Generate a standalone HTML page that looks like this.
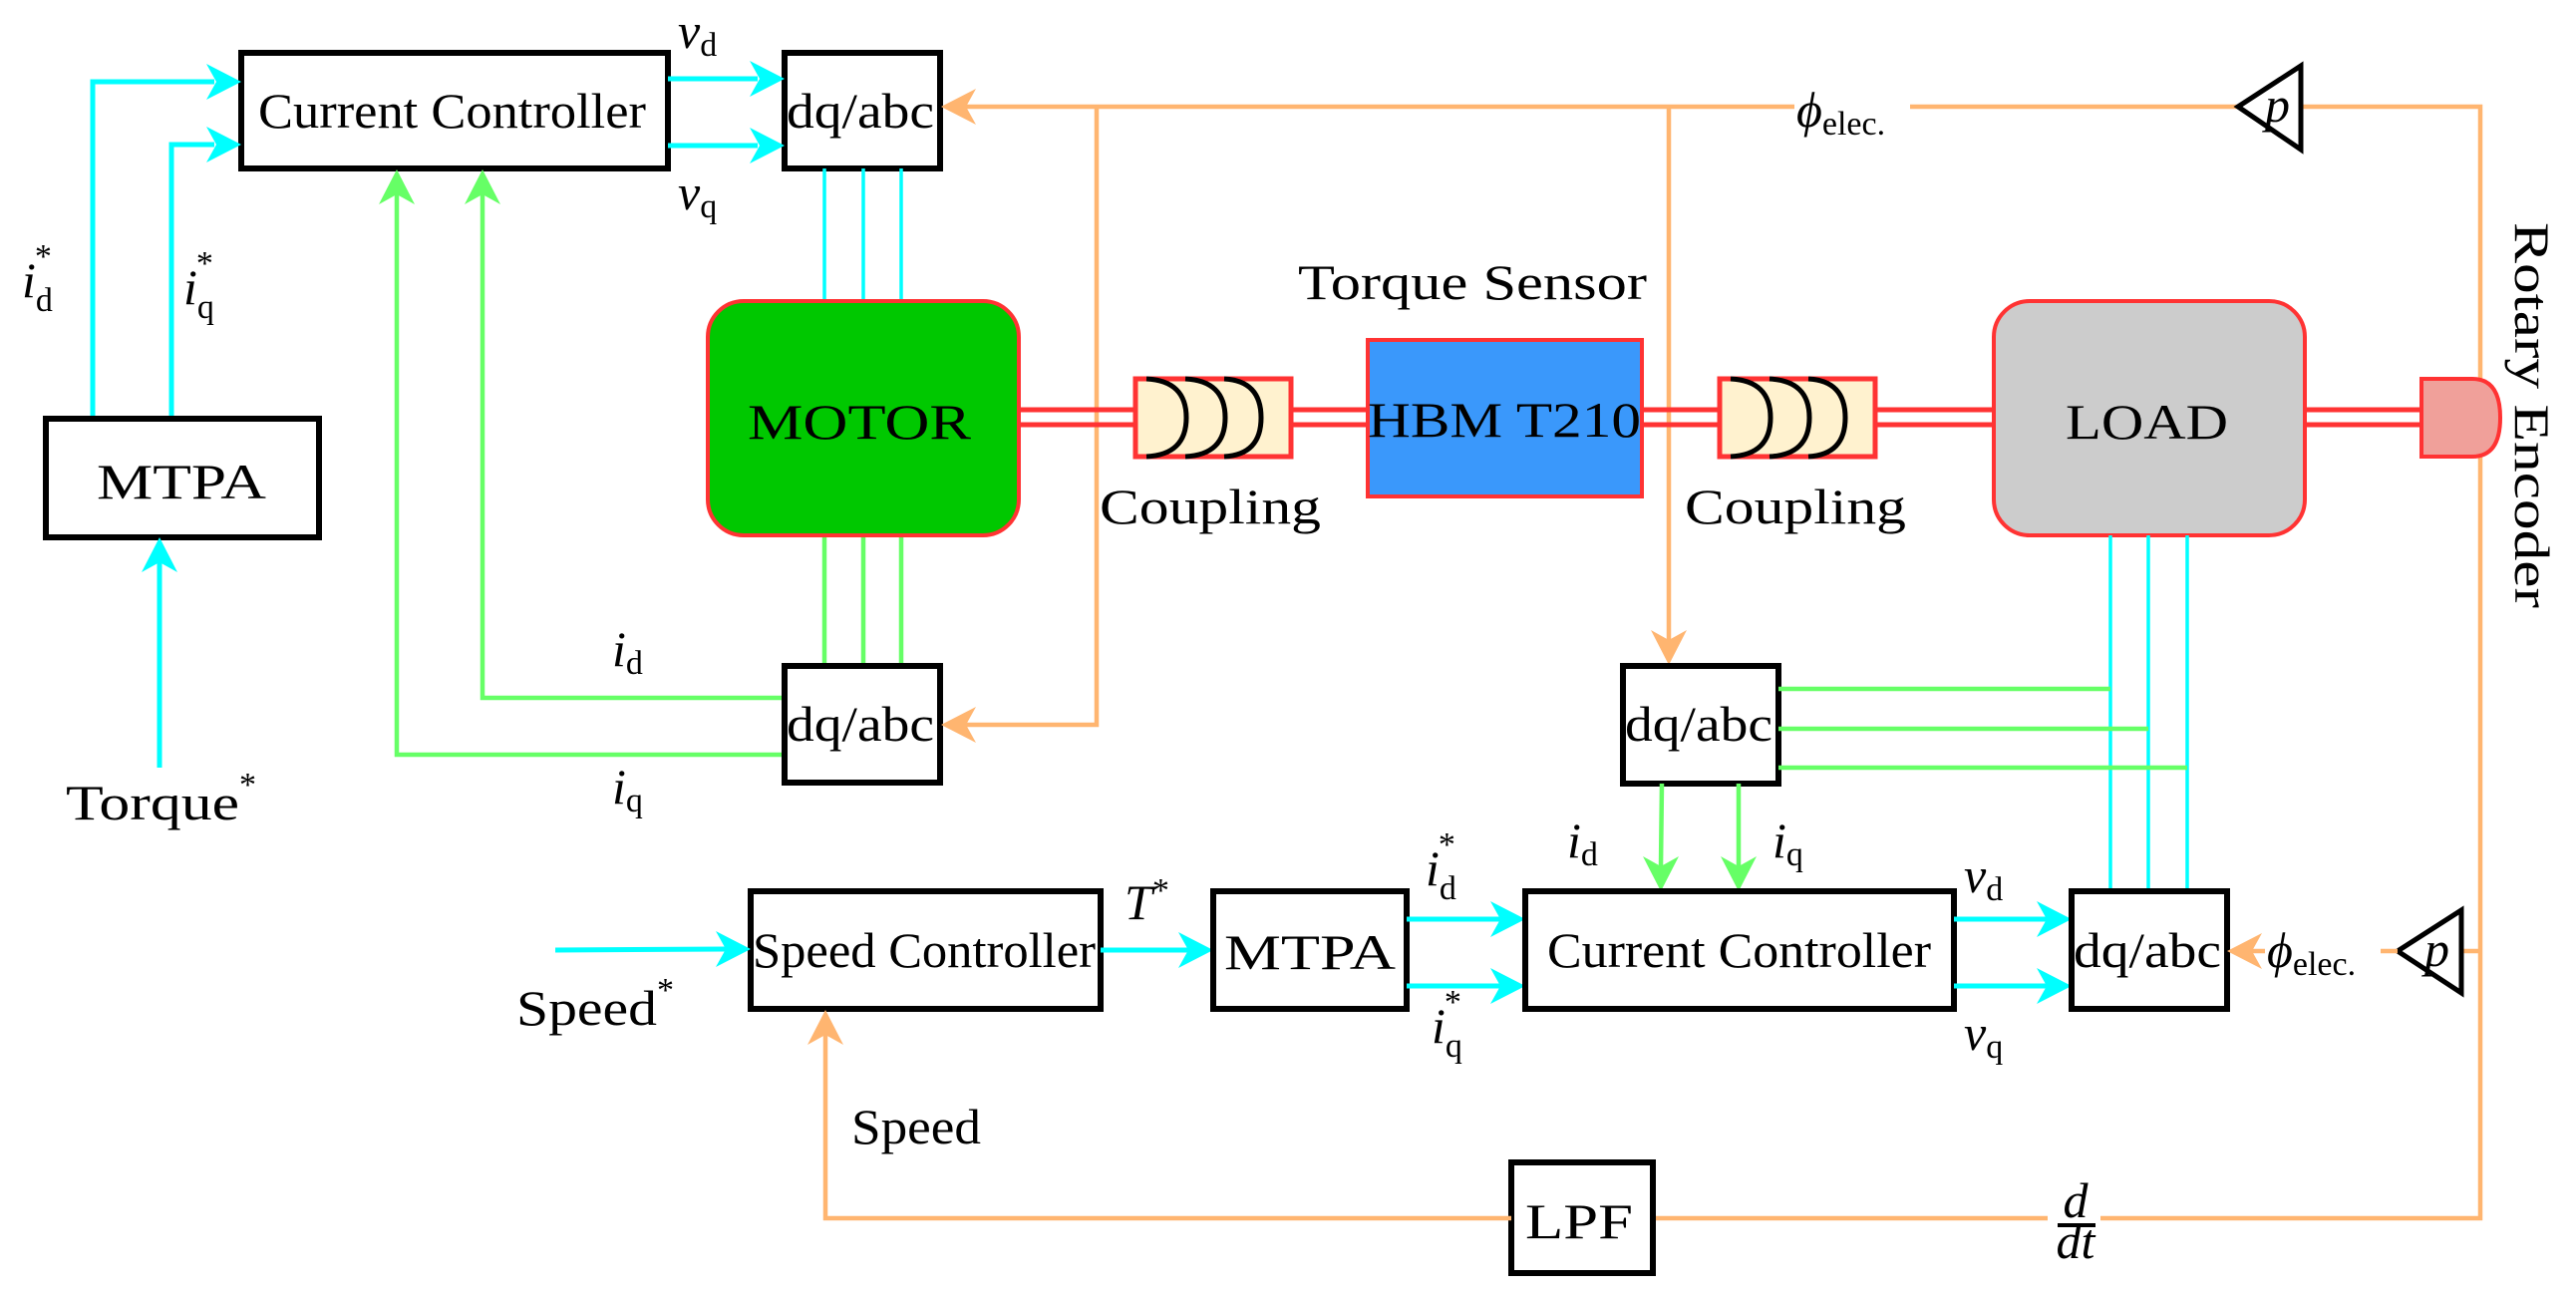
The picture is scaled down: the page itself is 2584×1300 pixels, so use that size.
<!DOCTYPE html>
<html><head><meta charset="utf-8"><style>
html,body{margin:0;padding:0;background:#fff;}
svg{display:block;font-family:"Liberation Serif",serif;}
</style></head><body>
<svg width="2584" height="1300" viewBox="0 0 2584 1300" xmlns="http://www.w3.org/2000/svg">
<style>
.c{stroke:#00ffff;stroke-width:5;fill:none}
.c3{stroke:#00ffff;stroke-width:3.5;fill:none}
.g{stroke:#66ff66;stroke-width:4.5;fill:none}
.o{stroke:#ffb570;stroke-width:4.5;fill:none}
.b{stroke:#000;stroke-width:6;fill:#fff}
.r{stroke:#ff3333;stroke-width:5}
.t{font-size:50px;fill:#000}
.m{font-size:50px;fill:#000;font-style:italic}
.s{font-size:34px;font-style:normal}
.it{font-style:italic}
</style>

<!-- TOP LEFT -->
<rect class="b" x="242" y="53" width="428" height="116"/>
<text class="t" x="259" y="128" textLength="389" lengthAdjust="spacingAndGlyphs">Current Controller</text>
<rect class="b" x="787" y="53" width="156" height="116"/>
<text class="t" x="789" y="128" textLength="148" lengthAdjust="spacingAndGlyphs">dq/abc</text>

<line class="c" x1="670" y1="79" x2="760" y2="79"/>
<polygon points="787,79 752,61 762,79 752,97" fill="#00ffff"/>
<line class="c" x1="670" y1="146" x2="760" y2="146"/>
<polygon points="787,146 752,128 762,146 752,164" fill="#00ffff"/>
<text class="m" x="680" y="48">v<tspan class="s" dy="8">d</tspan></text>
<text class="m" x="680" y="210">v<tspan class="s" dy="8">q</tspan></text>

<polyline class="c" points="93,420 93,82 215,82"/>
<polygon points="242,82 207,64 217,82 207,100" fill="#00ffff"/>
<polyline class="c" points="172,420 172,145 215,145"/>
<polygon points="242,145 207,127 217,145 207,163" fill="#00ffff"/>
<text class="m" x="22" y="298">i<tspan class="s" dy="14">d</tspan><tspan class="s" dx="-18" dy="-44">*</tspan></text>
<text class="m" x="184" y="305">i<tspan class="s" dy="14">q</tspan><tspan class="s" dx="-18" dy="-44">*</tspan></text>

<rect class="b" x="46" y="420" width="274" height="119"/>
<text class="t" x="97" y="500" font-size="56" textLength="170" lengthAdjust="spacingAndGlyphs">MTPA</text>
<line class="c" x1="160" y1="770" x2="160" y2="560"/>
<polygon points="160,539 142,574 160,564 178,574" fill="#00ffff"/>
<text class="t" x="66" y="822" font-size="54"><tspan textLength="174" lengthAdjust="spacingAndGlyphs">Torque</tspan><tspan font-size="34" dy="-24">*</tspan></text>

<polyline class="g" points="786,700 484,700 484,190"/>
<polygon points="484,170 466,205 484,195 502,205" fill="#66ff66"/>
<polyline class="g" points="786,757 398,757 398,190"/>
<polygon points="398,170 380,205 398,195 416,205" fill="#66ff66"/>
<text class="m" x="614" y="668">i<tspan class="s" dy="8">d</tspan></text>
<text class="m" x="614" y="806">i<tspan class="s" dy="8">q</tspan></text>

<line class="c3" x1="827" y1="169" x2="827" y2="303"/>
<line class="c3" x1="866" y1="169" x2="866" y2="303"/>
<line class="c3" x1="904" y1="169" x2="904" y2="303"/>
<line class="g" stroke-width="3.5" x1="827" y1="537" x2="827" y2="667"/>
<line class="g" stroke-width="3.5" x1="866" y1="537" x2="866" y2="667"/>
<line class="g" stroke-width="3.5" x1="904" y1="537" x2="904" y2="667"/>

<rect class="b" x="787" y="668" width="156" height="117"/>
<text class="t" x="789" y="743" textLength="148" lengthAdjust="spacingAndGlyphs">dq/abc</text>

<!-- orange top -->
<polyline class="o" points="965,107 1800,107"/>
<polyline class="o" points="1916,107 2245,107"/>
<polyline class="o" points="2308,107 2488,107 2488,1222 2107,1222"/>
<polygon points="944,107 979,89 969,107 979,125" fill="#ffb570"/>
<polyline class="o" points="1100,107 1100,727 965,727"/>
<polygon points="944,727 979,709 969,727 979,745" fill="#ffb570"/>
<line class="o" x1="1674" y1="107" x2="1674" y2="645"/>
<polygon points="1674,667 1656,632 1674,642 1692,632" fill="#ffb570"/>
<text class="m" x="1802" y="127" font-size="56">ϕ<tspan class="s" dy="8" font-size="38">elec.</tspan></text>
<polygon points="2245,107 2308,66 2308,150" fill="#fff" stroke="#000" stroke-width="5"/>
<text class="m" x="2272" y="122" font-size="44">p</text>

<!-- shafts -->
<line class="r" x1="1022" y1="411" x2="1138" y2="411"/>
<line class="r" x1="1022" y1="426" x2="1138" y2="426"/>
<line class="r" x1="1295" y1="411" x2="1371" y2="411"/>
<line class="r" x1="1295" y1="426" x2="1371" y2="426"/>
<line class="r" x1="1647" y1="411" x2="1724" y2="411"/>
<line class="r" x1="1647" y1="426" x2="1724" y2="426"/>
<line class="r" x1="1882" y1="411" x2="1999" y2="411"/>
<line class="r" x1="1882" y1="426" x2="1999" y2="426"/>
<line class="r" x1="2312" y1="411" x2="2428" y2="411"/>
<line class="r" x1="2312" y1="426" x2="2428" y2="426"/>

<rect x="710" y="302" width="312" height="235" rx="36" fill="#00c800" stroke="#ff3333" stroke-width="4"/>
<text class="t" x="750" y="440" font-size="58" textLength="224" lengthAdjust="spacingAndGlyphs">MOTOR</text>

<rect x="1139" y="380" width="156" height="78" fill="#fff2cf" stroke="#ff3333" stroke-width="5"/>
<path d="M1150,380 Q1190,382 1190,419 Q1190,456 1150,458 M1189,380 Q1229,382 1229,419 Q1229,456 1189,458 M1228,380 Q1265,382 1265,419 Q1265,456 1228,458" fill="none" stroke="#000" stroke-width="5"/>
<text class="t" x="1103" y="525" font-size="54" textLength="222" lengthAdjust="spacingAndGlyphs">Coupling</text>

<rect x="1372" y="341" width="275" height="157" fill="#3a98fb" stroke="#ff3333" stroke-width="4"/>
<text class="t" x="1372" y="438" font-size="56" textLength="274" lengthAdjust="spacingAndGlyphs">HBM T210</text>
<text class="t" x="1302" y="300" font-size="54" textLength="350" lengthAdjust="spacingAndGlyphs">Torque Sensor</text>

<rect x="1725" y="380" width="156" height="78" fill="#fff2cf" stroke="#ff3333" stroke-width="5"/>
<path d="M1736,380 Q1776,382 1776,419 Q1776,456 1736,458 M1775,380 Q1815,382 1815,419 Q1815,456 1775,458 M1814,380 Q1851,382 1851,419 Q1851,456 1814,458" fill="none" stroke="#000" stroke-width="5"/>
<text class="t" x="1690" y="525" font-size="54" textLength="222" lengthAdjust="spacingAndGlyphs">Coupling</text>

<rect x="2000" y="302" width="312" height="235" rx="36" fill="#cccccc" stroke="#ff3333" stroke-width="4"/>
<text class="t" x="2072" y="440" font-size="58" textLength="163" lengthAdjust="spacingAndGlyphs">LOAD</text>

<path d="M2429,380 L2480,380 Q2508,380 2508,419 Q2508,458 2480,458 L2429,458 Z" fill="#f0a09a" stroke="#ff3333" stroke-width="4"/>
<text class="t" font-size="54" transform="translate(2523,223) rotate(90)" textLength="387" lengthAdjust="spacingAndGlyphs">Rotary Encoder</text>

<line class="c3" x1="2117" y1="537" x2="2117" y2="894"/>
<line class="c3" x1="2155" y1="537" x2="2155" y2="894"/>
<line class="c3" x1="2194" y1="537" x2="2194" y2="894"/>

<rect class="b" x="1628" y="668" width="156" height="118"/>
<text class="t" x="1630" y="743" textLength="148" lengthAdjust="spacingAndGlyphs">dq/abc</text>
<line class="g" stroke-width="4" x1="1784" y1="691" x2="2117" y2="691"/>
<line class="g" stroke-width="4" x1="1784" y1="731" x2="2155" y2="731"/>
<line class="g" stroke-width="4" x1="1784" y1="770" x2="2194" y2="770"/>
<line class="g" x1="1667" y1="786" x2="1666" y2="870"/>
<polygon points="1666,894 1648,859 1666,869 1684,859" fill="#66ff66"/>
<line class="g" x1="1744" y1="786" x2="1744" y2="870"/>
<polygon points="1744,894 1726,859 1744,869 1762,859" fill="#66ff66"/>
<text class="m" x="1572" y="860">i<tspan class="s" dy="8">d</tspan></text>
<text class="m" x="1778" y="860">i<tspan class="s" dy="8">q</tspan></text>

<!-- bottom row -->
<rect class="b" x="753" y="894" width="351" height="118"/>
<text class="t" x="755" y="970" textLength="344" lengthAdjust="spacingAndGlyphs">Speed Controller</text>
<line class="c" x1="557" y1="953" x2="728" y2="952"/>
<polygon points="753,952 718,934 728,952 718,970" fill="#00ffff"/>
<text class="t" x="518" y="1028" font-size="54"><tspan textLength="141" lengthAdjust="spacingAndGlyphs">Speed</tspan><tspan font-size="34" dy="-24">*</tspan></text>
<line class="c" x1="1104" y1="953" x2="1192" y2="953"/>
<polygon points="1217,953 1182,935 1192,953 1182,971" fill="#00ffff"/>
<text class="m" x="1128" y="922" font-size="56">T<tspan class="s" dy="-18">*</tspan></text>

<rect class="b" x="1217" y="894" width="194" height="118"/>
<text class="t" x="1228" y="972" font-size="56" textLength="172" lengthAdjust="spacingAndGlyphs">MTPA</text>

<line class="c" x1="1411" y1="922" x2="1505" y2="922"/>
<polygon points="1530,922 1495,904 1505,922 1495,940" fill="#00ffff"/>
<line class="c" x1="1411" y1="989" x2="1505" y2="989"/>
<polygon points="1530,989 1495,971 1505,989 1495,1007" fill="#00ffff"/>
<text class="m" x="1430" y="888">i<tspan class="s" dy="14">d</tspan><tspan class="s" dx="-18" dy="-44">*</tspan></text>
<text class="m" x="1436" y="1046">i<tspan class="s" dy="14">q</tspan><tspan class="s" dx="-18" dy="-44">*</tspan></text>

<rect class="b" x="1530" y="894" width="430" height="118"/>
<text class="t" x="1552" y="970" textLength="385" lengthAdjust="spacingAndGlyphs">Current Controller</text>

<line class="c" x1="1960" y1="922" x2="2053" y2="922"/>
<polygon points="2078,922 2043,904 2053,922 2043,940" fill="#00ffff"/>
<line class="c" x1="1960" y1="989" x2="2053" y2="989"/>
<polygon points="2078,989 2043,971 2053,989 2043,1007" fill="#00ffff"/>
<text class="m" x="1970" y="895">v<tspan class="s" dy="8">d</tspan></text>
<text class="m" x="1970" y="1053">v<tspan class="s" dy="8">q</tspan></text>

<rect class="b" x="2078" y="894" width="156" height="118"/>
<text class="t" x="2080" y="970" textLength="148" lengthAdjust="spacingAndGlyphs">dq/abc</text>

<line class="o" x1="2488" y1="954" x2="2469" y2="954"/>
<polygon points="2405,954 2469,913 2469,996" fill="#fff" stroke="#000" stroke-width="5"/>
<text class="m" x="2432" y="969" font-size="44">p</text>
<line class="o" x1="2388" y1="954" x2="2405" y2="954"/>
<line class="o" x1="2258" y1="954" x2="2272" y2="954"/>
<polygon points="2234,954 2269,936 2259,954 2269,972" fill="#ffb570"/>
<text class="m" x="2274" y="970" font-size="56">ϕ<tspan class="s" dy="8" font-size="38">elec.</tspan></text>

<polyline class="o" points="2054,1222 1658,1222"/>
<rect class="b" x="1516" y="1166" width="142" height="111"/>
<text class="t" x="1530" y="1242" font-size="56" textLength="108" lengthAdjust="spacingAndGlyphs">LPF</text>
<polyline class="o" points="1516,1222 828,1222 828,1035"/>
<polygon points="828,1013 810,1048 828,1038 846,1048" fill="#ffb570"/>
<text class="t" x="854" y="1147" font-size="52" textLength="130" lengthAdjust="spacingAndGlyphs">Speed</text>
<text class="m" x="2082" y="1221" text-anchor="middle" font-size="34">d</text>
<line x1="2064" y1="1229" x2="2102" y2="1229" stroke="#000" stroke-width="4"/>
<text class="m" x="2082" y="1262" text-anchor="middle" font-size="34">dt</text>
</svg>
</body></html>
